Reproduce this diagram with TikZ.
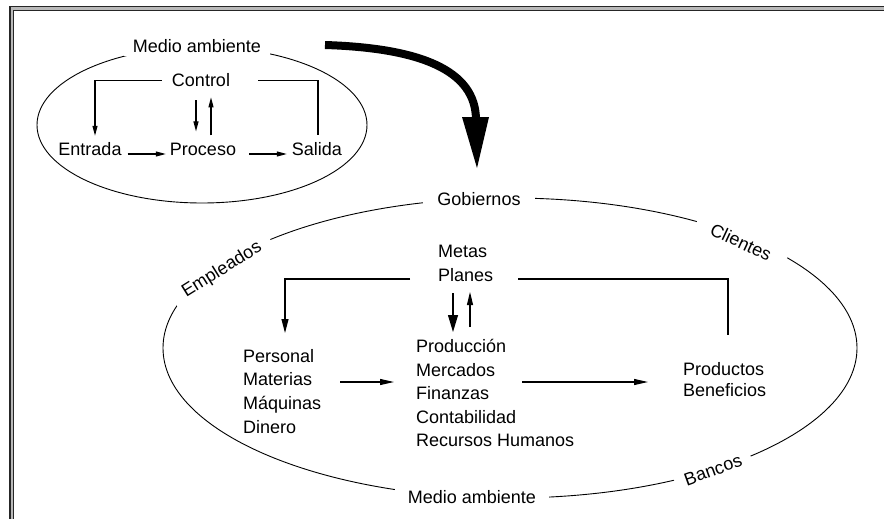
\documentclass[tikz,border=0pt]{standalone}
\usepackage{fontspec}
\setmainfont{Liberation Sans}
\usetikzlibrary{arrows.meta}
\begin{document}
\begin{tikzpicture}[x=1pt,y=-1pt,
  lbl/.style={font=\fontsize{18}{23.6}\selectfont, inner sep=0pt},
  elab/.style={lbl, fill=white, inner ysep=3pt},
  rlab/.style={lbl, fill=white, inner ysep=7pt},
  ell/.style={line width=0.9pt, black},
  conn/.style={line width=1.1pt, black},
  tipS/.style={-{Triangle[length=10pt,width=5pt]}},
  tipB/.style={-{Triangle[length=17pt,width=10pt]}},
  tipU/.style={-{Triangle[length=13pt,width=6pt]}},
  tipM/.style={-{Triangle[length=14pt,width=7pt]}},
  tipH/.style={-{Triangle[length=14pt,width=6pt]}}
]
\useasboundingbox (0,0) rectangle (884,519);
% frame
\draw[line width=5pt, gray!55] (11.6,525) -- (11.6,8.5) -- (890,8.5);
\draw[line width=1.6pt, black!85] (9.8,525) -- (9.8,6.6) -- (890,6.6);
\draw[line width=1.6pt, black!85] (13.3,525) -- (13.3,10.4) -- (890,10.4);

% ellipses
\draw[ell] (202,125) ellipse [x radius=165, y radius=78];
\draw[ell] (510,348) ellipse [x radius=347, y radius=150];

% small system
\node[elab, anchor=base, inner xsep=9pt] (ma1) at (197,53) {Medio ambiente};
\node[lbl, anchor=base] (ctl) at (201,87) {Control};
\node[lbl, anchor=base] (ent) at (90,155) {Entrada};
\node[lbl, anchor=base] (pro) at (203,155) {Proceso};
\node[lbl, anchor=base] (sal) at (317,155) {Salida};

\draw[conn, tipS] ([xshift=-10pt]ctl.west) -| ([xshift=5pt,yshift=6pt]ent.north);
\draw[conn] ([xshift=28pt]ctl.east) -| ([xshift=1pt,yshift=7pt]sal.north);
\draw[conn, tipS] ([xshift=-5pt,yshift=-13pt]ctl.south) -- ([xshift=-7pt,yshift=11pt]pro.north);
\draw[conn, tipS] ([xshift=8pt,yshift=7pt]pro.north) -- ([xshift=10pt,yshift=-10pt]ctl.south);
\draw[conn, tipS] ([xshift=6pt,yshift=1pt]ent.base east) -- ([xshift=-4pt,yshift=1pt]pro.base west);
\draw[conn, tipS] ([xshift=13pt,yshift=1pt]pro.base east) -- ([xshift=-5pt,yshift=1pt]sal.base west);

% big arrow
\coordinate (bigS) at (325,45);
\coordinate (bigE) at (476,120);
\draw[line width=8pt] (bigS) .. controls (420,48) and (476,70) .. (bigE);
\fill (462,117) -- (489,117) -- (477,168) -- cycle;

% big system labels on ellipse
\node[elab, anchor=base, inner xsep=14pt] (gob) at (479,205) {Gobiernos};
\node[rlab, rotate=32, inner xsep=12pt] (emp) at (222,270) {Empleados};
\node[rlab, rotate=-25, inner xsep=16pt] (cli) at (741,242) {Clientes};
\node[rlab, rotate=20, inner xsep=10pt] (ban) at (713,470) {Bancos};
\node[elab, anchor=base, inner xsep=13pt] (ma2) at (472,503) {Medio ambiente};

% inner texts
\node[lbl, align=left, anchor=north west] (met) at (438,245) {Metas\\Planes};
\node[lbl, align=left, anchor=north west] (per) at (243,349) {Personal\\Materias\\Máquinas\\Dinero};
\node[lbl, align=left, anchor=north west] (prd) at (416,339) {Producción\\Mercados\\Finanzas\\Contabilidad\\Recursos Humanos};
\node[lbl, align=left, anchor=north west, font=\fontsize{18}{21.5}\selectfont] (pb) at (683,362) {Productos\\Beneficios};

% connectors in big system
\coordinate (mL) at (410,279);
\coordinate (mR) at (518,279);
\coordinate (perT) at (285,333);
\coordinate (pbT) at (728,335);
\coordinate (dnS) at (453,293);
\coordinate (dnE) at (453,332);
\coordinate (upS) at (470,327);
\coordinate (upE) at (470,292);
\coordinate (h1S) at (340,382);
\coordinate (h1E) at (394,382);
\coordinate (h2S) at (522,382);
\coordinate (h2E) at (648,382);
\draw[conn, tipM] (mL) -| (perT);
\draw[conn] (mR) -| (pbT);
\draw[conn, tipB] (dnS) -- (dnE);
\draw[conn, tipU] (upS) -- (upE);
\draw[conn, tipH] (h1S) -- (h1E);
\draw[conn, tipH] (h2S) -- (h2E);
\end{tikzpicture}
\end{document}
